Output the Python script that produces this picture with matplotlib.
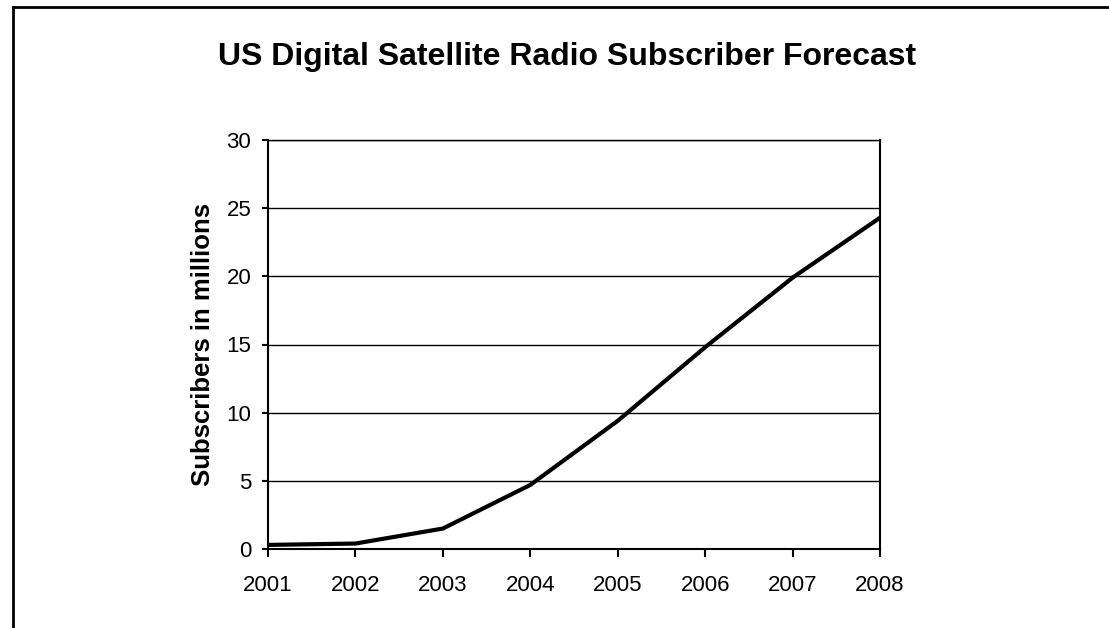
import matplotlib
matplotlib.use("Agg")
import matplotlib.pyplot as plt
from matplotlib.lines import Line2D

years = [2001, 2002, 2003, 2004, 2005, 2006, 2007, 2008]
subscribers = [0.3, 0.4, 1.5, 4.7, 9.4, 14.8, 19.9, 24.3]
yticks = [0, 5, 10, 15, 20, 25, 30]

plt.rcParams['font.family'] = ['Liberation Sans', 'DejaVu Sans']

fig = plt.figure(figsize=(11.09, 6.28), dpi=100)
ax = fig.add_axes([268/1109, 1-549/628, (880-268)/1109, (549-140)/628])

ax.plot(years, subscribers, color='black', lw=3, solid_joinstyle='miter')
ax.set_xlim(2001, 2008)
ax.set_ylim(0, 30)
ax.set_xticks(years)
ax.set_yticks(yticks)
ax.yaxis.grid(True, color='black', lw=1)
ax.set_axisbelow(True)
for s in ['left', 'right', 'bottom']:
    ax.spines[s].set_linewidth(1.5)
ax.spines['top'].set_linewidth(1)
ax.tick_params(axis='both', direction='out', width=1.5, labelsize=16, colors='black')
ax.tick_params(axis='x', length=5.5, pad=13)
ax.tick_params(axis='y', length=4, pad=8)
ax.set_ylabel('Subscribers in millions', fontsize=18.5, fontweight='bold', labelpad=8)

fig.text(567/1109, 1-57/628, 'US Digital Satellite Radio Subscriber Forecast',
         ha='center', va='center', fontsize=23, fontweight='bold')

fig.add_artist(Line2D([13/1109, 13/1109], [0, 1-7/628], transform=fig.transFigure, color='black', lw=2))
fig.add_artist(Line2D([13/1109, 1], [1-7/628, 1-7/628], transform=fig.transFigure, color='black', lw=2))

fig.savefig('out.png', dpi=100)
